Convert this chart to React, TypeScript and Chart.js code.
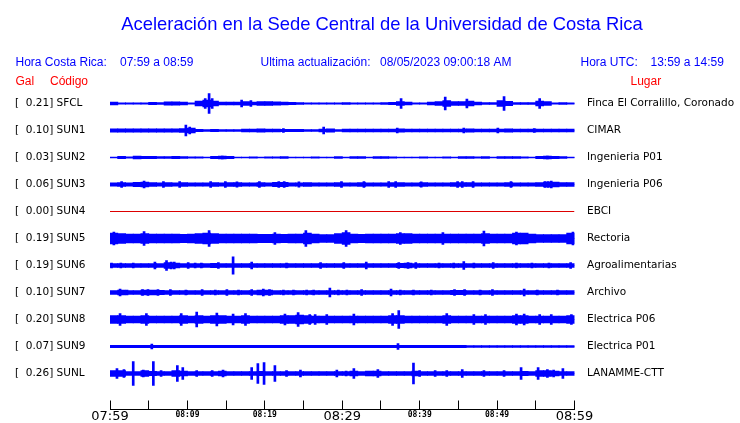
import React, { useEffect, useRef } from "react";
import { Chart, registerables } from "chart.js";

Chart.register(...registerables);

// ---------------- text ----------------
const TITLE = "Aceleración en la Sede Central de la Universidad de Costa Rica";
const LOCAL_LABEL = "Hora Costa Rica:";
const LOCAL_RANGE = "07:59 a 08:59";
const UPDATE_LABEL = "Ultima actualización:";
const UPDATE_VALUE = "08/05/2023 09:00:18 AM";
const UTC_LABEL = "Hora UTC:";
const UTC_RANGE = "13:59 a 14:59";
const COL_GAL = "Gal";
const COL_CODE = "Código";
const COL_PLACE = "Lugar";

// ---------------- stations ----------------
const CODES = ["SFCL", "SUN1", "SUN2", "SUN3", "SUN4", "SUN5", "SUN6", "SUN7", "SUN8", "SUN9", "SUNL"];
const GAL = [0.21, 0.10, 0.03, 0.06, 0.00, 0.19, 0.19, 0.10, 0.20, 0.07, 0.26];
const PLACES = [
  "Finca El Corralillo, Coronado",
  "CIMAR",
  "Ingenieria P01",
  "Ingenieria P06",
  "EBCI",
  "Rectoria",
  "Agroalimentarias",
  "Archivo",
  "Electrica P06",
  "Electrica P01",
  "LANAMME-CTT",
];

// x axis: minutes after 07:59
const X_TICK_MINUTES = [0, 5, 10, 15, 20, 25, 30, 35, 40, 45, 50, 55, 60];
const X_TICK_LABELS = ["07:59", "", "08:09", "", "08:19", "", "08:29", "", "08:39", "", "08:49", "", "08:59"];
const X_MAJOR_LABELS = ["07:59", "08:29", "08:59"];

// per-minute envelope (half amplitude) of each trace, minute 0..59
const SFCL_ENV = [
  1.3, 0.6, 0.7, 0.6, 0.7, 1.1, 1.0, 1.6, 1.6, 1.5,
  0.6, 2.5, 3.5, 2.5, 1.4, 1.3, 1.5, 2.0, 1.5, 1.8,
  1.8, 1.6, 1.4, 1.1, 1.0, 0.6, 0.7, 0.6, 0.7, 0.6,
  0.8, 0.6, 0.7, 0.6, 0.7, 0.8, 1.2, 2.0, 1.5, 0.6,
  0.6, 1.5, 1.8, 3.0, 1.8, 1.8, 2.5, 1.5, 1.0, 1.0,
  3.0, 2.2, 1.0, 0.8, 1.0, 2.5, 2.0, 0.7, 0.8, 0.6,
];
const SUN1_ENV = [
  1.7, 1.7, 1.7, 1.7, 1.7, 1.7, 1.7, 1.7, 1.7, 1.8,
  2.5, 1.2, 1.0, 1.2, 1.0, 1.0, 1.0, 1.3, 1.5, 1.7,
  1.5, 1.4, 1.2, 1.2, 1.2, 0.8, 0.8, 1.5, 1.7, 0.9,
  1.4, 1.4, 1.3, 1.4, 1.3, 1.4, 1.3, 1.6, 1.5, 1.4,
  1.4, 1.3, 1.4, 1.4, 1.4, 1.5, 1.6, 1.4, 1.4, 1.4,
  1.5, 1.6, 1.4, 1.4, 1.4, 1.5, 1.4, 1.3, 1.4, 1.5,
];
const SUN2_ENV = [
  0.5, 1.2, 0.6, 1.3, 1.2, 1.2, 1.0, 1.0, 1.1, 1.0,
  0.6, 0.7, 0.5, 1.2, 1.4, 1.2, 0.5, 0.5, 0.6, 0.5,
  0.7, 0.6, 0.8, 0.5, 0.5, 0.5, 0.7, 0.5, 0.5, 0.8,
  0.5, 0.9, 0.9, 0.5, 0.8, 1.0, 0.7, 0.5, 0.5, 0.5,
  0.7, 0.5, 0.5, 0.6, 0.5, 0.9, 0.8, 0.6, 0.8, 0.5,
  0.9, 0.8, 0.8, 0.7, 0.5, 1.1, 1.3, 1.2, 0.9, 0.5,
];
const SUN3_ENV = [
  1.7, 1.8, 1.7, 2.2, 2.5, 1.8, 1.7, 1.9, 1.7, 1.8,
  1.7, 1.7, 1.7, 1.8, 1.7, 1.8, 1.8, 1.7, 1.7, 1.8,
  1.7, 2.2, 2.2, 1.7, 1.7, 1.8, 1.7, 1.7, 1.7, 1.8,
  1.7, 1.7, 1.8, 1.7, 1.7, 1.7, 2.0, 2.0, 1.7, 1.7,
  1.8, 1.7, 1.7, 1.7, 1.8, 1.9, 1.8, 1.7, 1.7, 1.7,
  1.7, 1.8, 1.7, 1.7, 1.7, 1.8, 2.3, 2.3, 1.8, 1.8,
];
const SUN4_ENV = [
  0, 0, 0, 0, 0, 0, 0, 0, 0, 0,
  0, 0, 0, 0, 0, 0, 0, 0, 0, 0,
  0, 0, 0, 0, 0, 0, 0, 0, 0, 0,
  0, 0, 0, 0, 0, 0, 0, 0, 0, 0,
  0, 0, 0, 0, 0, 0, 0, 0, 0, 0,
  0, 0, 0, 0, 0, 0, 0, 0, 0, 0,
];
const SUN5_ENV = [
  5.3, 4.8, 4.3, 4.3, 4.8, 4.3, 4.3, 4.3, 4.3, 4.2,
  4.3, 4.8, 5.3, 4.8, 4.3, 4.3, 4.3, 4.3, 4.3, 4.2,
  4.2, 4.3, 4.2, 4.3, 4.3, 5.3, 4.3, 4.0, 4.0, 4.8,
  5.8, 4.3, 4.2, 4.3, 4.3, 4.3, 4.3, 4.8, 4.8, 4.3,
  4.3, 4.3, 4.3, 4.3, 4.3, 4.3, 4.3, 4.5, 4.8, 4.3,
  4.3, 4.3, 5.3, 5.3, 4.3, 3.8, 3.8, 3.8, 4.0, 5.5,
];
const SUN6_ENV = [
  1.9, 1.9, 1.9, 1.9, 1.9, 1.9, 1.9, 2.8, 2.5, 1.9,
  1.9, 1.9, 1.9, 2.1, 1.9, 1.9, 1.9, 1.9, 1.9, 1.9,
  1.9, 1.9, 1.9, 1.9, 1.9, 1.9, 1.9, 1.9, 1.9, 1.9,
  1.9, 1.9, 1.9, 1.9, 1.9, 1.9, 1.9, 2.2, 2.3, 2.0,
  1.9, 1.9, 1.9, 1.9, 1.9, 1.9, 1.9, 1.9, 1.9, 1.9,
  1.9, 1.9, 1.9, 1.9, 1.9, 1.9, 1.9, 1.9, 1.9, 1.9,
];
const SUN7_ENV = [
  1.8, 2.5, 1.8, 1.8, 2.3, 2.3, 2.2, 1.8, 1.8, 1.8,
  1.8, 1.9, 1.8, 1.8, 1.8, 1.8, 1.8, 1.8, 1.9, 2.4,
  2.4, 1.8, 1.8, 1.8, 1.8, 1.8, 1.8, 1.8, 1.8, 1.8,
  1.8, 1.8, 1.8, 1.8, 1.8, 1.8, 1.8, 1.8, 1.8, 1.8,
  1.8, 1.8, 1.8, 1.8, 2.2, 2.2, 1.8, 1.8, 1.8, 1.8,
  1.8, 1.8, 1.8, 1.8, 1.8, 1.8, 1.8, 1.8, 1.8, 1.8,
];
const SUN8_ENV = [
  4.0, 4.0, 3.5, 3.5, 4.0, 3.5, 3.3, 3.3, 3.5, 4.0,
  3.5, 4.0, 3.5, 4.0, 4.0, 3.5, 3.5, 4.0, 3.5, 3.3,
  3.3, 3.3, 4.0, 4.0, 4.5, 4.0, 3.5, 3.3, 3.5, 3.5,
  3.5, 3.5, 3.3, 3.3, 3.5, 3.5, 4.0, 4.0, 3.5, 3.3,
  3.3, 3.3, 3.5, 4.0, 3.5, 3.5, 3.5, 3.5, 3.3, 3.5,
  3.5, 3.5, 4.0, 4.0, 3.5, 3.5, 3.5, 3.5, 3.5, 4.0,
];
const SUN9_ENV = [
  1.1, 1.1, 1.1, 1.1, 1.1, 1.2, 1.1, 1.1, 1.1, 1.1,
  1.1, 1.1, 1.1, 1.1, 1.1, 1.1, 1.1, 1.1, 1.1, 1.1,
  1.1, 1.1, 1.1, 1.1, 1.1, 1.1, 1.1, 1.1, 1.1, 1.1,
  1.1, 1.1, 1.1, 1.1, 1.1, 1.1, 1.1, 1.2, 1.1, 1.1,
  1.1, 1.1, 1.1, 1.1, 1.1, 1.1, 1.0, 1.0, 1.0, 1.0,
  1.0, 1.0, 1.0, 1.0, 1.0, 1.0, 1.0, 1.0, 1.0, 1.0,
];
const SUNL_ENV = [
  3.0, 3.0, 2.0, 1.8, 2.8, 2.2, 1.8, 1.8, 2.8, 2.5,
  1.8, 2.0, 1.8, 1.8, 2.5, 1.8, 1.8, 1.8, 2.0, 2.2,
  1.8, 2.0, 1.8, 1.8, 2.0, 1.8, 1.8, 1.8, 1.8, 2.0,
  1.8, 2.5, 1.8, 2.5, 2.5, 1.8, 1.8, 1.8, 1.8, 2.5,
  1.8, 2.0, 1.8, 2.0, 1.8, 2.0, 1.8, 1.8, 2.0, 1.8,
  1.8, 2.0, 1.8, 2.2, 2.0, 2.8, 2.8, 2.5, 2.0, 1.8,
];

// isolated peaks: [minute, half amplitude]
const SFCL_PEAKS = [[12.3, 5], [12.8, 10], [13.2, 5], [17, 3.5], [18.2, 3], [37.6, 5], [43.3, 6.5], [46.1, 4.5], [50.9, 7], [55.5, 5]];
const SUN1_PEAKS = [[9.8, 5.5], [10.3, 3.5], [22.4, 2], [27.6, 3.5], [37.1, 2.5], [45.7, 2.5], [50.1, 2.5], [54.8, 2]];
const SUN2_PEAKS = [[14.5, 1.5], [56.5, 1.5]];
const SUN3_PEAKS = [[1.5, 3], [4.4, 3.5], [6.9, 2.8], [9, 3], [13, 2.8], [14.9, 2.8], [16.4, 2.6], [19.3, 3], [21.8, 3], [22.5, 3], [24.4, 2.7], [29.9, 3], [32.8, 2.8], [36, 2.8], [36.9, 3], [40.2, 2.7], [44.9, 2.8], [45.5, 3], [46.9, 3], [51.8, 2.8], [56.2, 3], [56.6, 3], [57, 3.5]];
const SUN4_PEAKS: number[][] = [];
const SUN5_PEAKS = [[0.5, 6.5], [4.4, 7], [12.8, 8], [21.3, 6], [25.3, 8], [30.5, 8], [37.5, 6], [43, 6], [48.3, 7.5], [52.5, 6.5], [59.8, 6.5]];
const SUN6_PEAKS = [[0.2, 2.5], [1.4, 2.5], [3, 2.5], [5.8, 3.5], [7.3, 5], [7.9, 3.5], [8.3, 3.5], [10.1, 3], [11, 2.5], [11.8, 2.5], [14, 3], [15.9, 8.7], [18.3, 3.5], [22.8, 2.5], [27.2, 3], [30.2, 3], [33.1, 3.5], [37.3, 3], [38.5, 3], [39.5, 2.8], [42.5, 2.5], [44.4, 2.5], [45.7, 4], [47, 2.5], [49.5, 3], [52.5, 2.5], [54.5, 2.5], [56.7, 2.5], [59.5, 3]];
const SUN7_PEAKS = [[1.3, 3.5], [2.2, 2.5], [4.2, 3], [4.9, 3], [6.2, 3], [7.8, 3], [9.8, 2.5], [11.9, 3], [13.6, 2.5], [15.1, 3], [16.6, 2.5], [18.3, 3], [19.8, 3.5], [20.6, 3], [22.4, 2.5], [23.7, 2.5], [25.4, 2.5], [26.3, 2.5], [28.4, 4.5], [29.5, 2.5], [30.6, 2.5], [32.5, 3], [36.3, 3.5], [37.5, 2.5], [39.2, 2.5], [41.5, 2.5], [44.5, 3], [45.8, 3], [47.8, 2.5], [49.4, 3], [53.5, 3.5], [55.2, 2.5], [57.8, 2.5]];
const SUN8_PEAKS = [[1.3, 6], [4.7, 6], [9.2, 6], [11.2, 7.5], [13.8, 6.5], [15.9, 5.5], [17.5, 6], [22.6, 5.5], [24.3, 7], [25.8, 5], [26.5, 5], [28, 5], [31.5, 5.5], [36.5, 6], [37.3, 9], [43.5, 6], [47, 5], [48.5, 5], [52.5, 5.5], [53.5, 5.5], [55.5, 5], [57, 5], [59.6, 5]];
const SUN9_PEAKS = [[5.4, 2.5], [37.2, 3]];
const SUNL_PEAKS = [[0.9, 5], [1.8, 4], [3, 12], [4.3, 3.5], [5.6, 12], [6.6, 3], [8.7, 8], [9.4, 6], [11.2, 3], [13.2, 3], [14.6, 3.5], [18.3, 6], [19.1, 10], [19.9, 11], [21.3, 8], [22.8, 3], [24.6, 3.5], [29.3, 3.5], [30.5, 2.5], [31.5, 5], [34.6, 4], [39.2, 10.5], [40, 3], [42, 3], [43.5, 3], [45.5, 4], [48.3, 3], [50.9, 3], [53.1, 6], [55.3, 6], [56.5, 4], [57.3, 3.5], [58.5, 5]];

const ENVELOPES = [SFCL_ENV, SUN1_ENV, SUN2_ENV, SUN3_ENV, SUN4_ENV, SUN5_ENV, SUN6_ENV, SUN7_ENV, SUN8_ENV, SUN9_ENV, SUNL_ENV];
const PEAKS = [SFCL_PEAKS, SUN1_PEAKS, SUN2_PEAKS, SUN3_PEAKS, SUN4_PEAKS, SUN5_PEAKS, SUN6_PEAKS, SUN7_PEAKS, SUN8_PEAKS, SUN9_PEAKS, SUNL_PEAKS];

// ---------------- styling ----------------
const BLUE = "#0000ff";
const RED = "#ff0000";
const DEAD_COLOR = "#dd0000";
const AMP_PER_ROW = 27; // amplitude units between two trace rows
const FONT_SANS = "'DejaVu Sans', sans-serif";
const FONT_HEAD = "'Liberation Sans', Arial, sans-serif";

const headerPlugin = {
  id: "seismoHeader",
  afterDraw(chart: any) {
    const ctx = chart.ctx as CanvasRenderingContext2D;
    ctx.save();
    ctx.textBaseline = "alphabetic";
    ctx.fillStyle = BLUE;
    ctx.font = `18.4px ${FONT_HEAD}`;
    ctx.textAlign = "center";
    ctx.fillText(TITLE, 382, 30);

    ctx.font = `12px ${FONT_HEAD}`;
    ctx.textAlign = "left";
    ctx.fillText(LOCAL_LABEL, 15.5, 65.5);
    ctx.fillText(LOCAL_RANGE, 120, 65.5);
    ctx.fillText(UPDATE_LABEL, 260.5, 65.5);
    ctx.fillText(UPDATE_VALUE, 380, 65.5);
    ctx.fillText(UTC_LABEL, 580.5, 65.5);
    ctx.fillText(UTC_RANGE, 650.5, 65.5);

    ctx.fillStyle = RED;
    ctx.fillText(COL_GAL, 15.5, 85);
    ctx.fillText(COL_CODE, 50, 85);
    ctx.fillText(COL_PLACE, 630.5, 85);
    ctx.restore();
  },
};

export default function App() {
  const canvasRef = useRef<HTMLCanvasElement | null>(null);

  useEffect(() => {
    const canvas = canvasRef.current;
    if (!canvas) return;

    const datasets: any[] = [];
    CODES.forEach((code, i) => {
      const env = ENVELOPES[i];
      const peaks = PEAKS[i];
      const dead = env.every((a) => a === 0);
      const color = dead ? DEAD_COLOR : BLUE;
      datasets.push({
        type: "line",
        label: `${code} base`,
        data: [
          { x: X_TICK_MINUTES[0], y: i },
          { x: X_TICK_MINUTES[X_TICK_MINUTES.length - 1], y: i },
        ],
        borderColor: color,
        borderWidth: 1,
        pointRadius: 0,
        order: 3,
      });
      if (!dead) {
        datasets.push({
          type: "bar",
          label: `${code} envelope`,
          data: env.map((a, m) => ({ x: m + 0.5, y: [i - a / AMP_PER_ROW, i + a / AMP_PER_ROW] })),
          backgroundColor: color,
          borderWidth: 0,
          barThickness: 8,
          stack: "trace",
          order: 2,
        });
        datasets.push({
          type: "bar",
          label: `${code} peaks`,
          data: peaks.map(([m, a]) => ({ x: m, y: [i - a / AMP_PER_ROW, i + a / AMP_PER_ROW] })),
          backgroundColor: color,
          borderWidth: 0,
          barThickness: 2,
          stack: "trace",
          order: 1,
        });
      }
    });

    const rowLabels = CODES.map((c, i) => `[  ${GAL[i].toFixed(2)}] ${c}`);

    const chart = new Chart(canvas, {
      type: "bar",
      data: { datasets },
      options: {
        responsive: false,
        animation: false,
        devicePixelRatio: 1,
        events: [],
        layout: { padding: { left: 15, right: 0, top: 76.5, bottom: 0 } },
        plugins: {
          legend: { display: false },
          title: { display: false },
          tooltip: { enabled: false },
        },
        scales: {
          x: {
            type: "linear",
            position: "bottom",
            min: X_TICK_MINUTES[0],
            max: X_TICK_MINUTES[X_TICK_MINUTES.length - 1],
            offset: false,
            afterBuildTicks: (s: any) => {
              s.ticks = X_TICK_MINUTES.map((v) => ({ value: v }));
            },
            afterFit: (s: any) => {
              s.height = 13.5;
              s.paddingTop = 0;
              s.paddingBottom = 0;
            },
            grid: {
              display: true,
              offset: false,
              drawOnChartArea: false,
              drawTicks: true,
              tickLength: -9,
              color: "#000",
              lineWidth: 1,
            },
            border: { display: true, color: "#000", width: 1 },
            ticks: {
              autoSkip: false,
              maxRotation: 0,
              minRotation: 0,
              padding: 8,
              color: "#000",
              font: (c: any) =>
                X_MAJOR_LABELS.includes(X_TICK_LABELS[c.index])
                  ? { family: FONT_SANS, size: 13, lineHeight: 1.2 }
                  : { family: "'DejaVu Sans Mono', monospace", size: 8, weight: "bold", lineHeight: 1.65 },
              callback: (_v: any, idx: number) => X_TICK_LABELS[idx],
            },
          },
          y: {
            type: "linear",
            position: "left",
            min: -1,
            max: 11.3333,
            reverse: true,
            stacked: false,
            afterBuildTicks: (s: any) => {
              s.ticks = CODES.map((_c, i) => ({ value: i }));
            },
            afterFit: (s: any) => {
              s.width = 95;
              s.paddingTop = 0;
              s.paddingBottom = 0;
            },
            grid: { display: false, drawTicks: false },
            border: { display: false },
            ticks: {
              crossAlign: "far",
              padding: 0,
              color: "#000",
              autoSkip: false,
              font: { family: FONT_SANS, size: 10.5 },
              callback: (_v: any, idx: number) => rowLabels[idx],
            },
          },
          y2: {
            type: "linear",
            position: "right",
            min: -1,
            max: 11.3333,
            reverse: true,
            stacked: false,
            afterBuildTicks: (s: any) => {
              s.ticks = PLACES.map((_p, i) => ({ value: i }));
            },
            afterFit: (s: any) => {
              s.width = 165.5;
              s.paddingTop = 0;
              s.paddingBottom = 0;
            },
            grid: { display: false, drawTicks: true, tickLength: 12.5 },
            border: { display: false },
            ticks: {
              crossAlign: "near",
              padding: 0,
              color: "#000",
              autoSkip: false,
              font: { family: FONT_SANS, size: 10.5 },
              callback: (_v: any, idx: number) => PLACES[idx],
            },
          },
        },
      } as any,
      plugins: [headerPlugin],
    });

    return () => chart.destroy();
  }, []);

  return (
    <div style={{ position: "absolute", left: 0, top: 0, width: 740, height: 423, background: "#fff" }}>
      <canvas ref={canvasRef} width={740} height={423} style={{ display: "block" }} />
    </div>
  );
}
